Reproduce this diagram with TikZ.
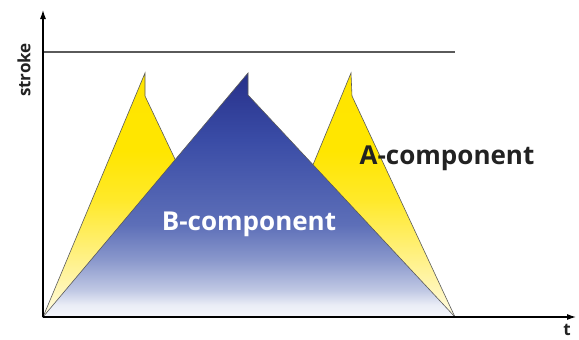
\documentclass[tikz,border=0pt]{standalone}
\usepackage{fontspec}
\setmainfont{Open Sans}
\usetikzlibrary{arrows.meta}
\definecolor{axisgray}{HTML}{333333}
\definecolor{linegray}{HTML}{5A5A5A}
\definecolor{txt}{HTML}{222222}
\pgfdeclareverticalshading{blueshade}{100bp}{
  color(0bp)=(rgb,255:red,246;green,247;blue,252);
  color(25bp)=(rgb,255:red,246;green,247;blue,252);
  color(27.5bp)=(rgb,255:red,234;green,237;blue,246);
  color(30.5bp)=(rgb,255:red,192;green,200;blue,228);
  color(36.7bp)=(rgb,255:red,138;green,152;blue,204);
  color(43.9bp)=(rgb,255:red,93;green,111;blue,184);
  color(61.3bp)=(rgb,255:red,58;green,76;blue,166);
  color(75bp)=(rgb,255:red,39;green,48;blue,138);
  color(100bp)=(rgb,255:red,39;green,48;blue,138)}
\pgfdeclareverticalshading{yellowshade}{100bp}{
  color(0bp)=(rgb,255:red,255;green,252;blue,232);
  color(25bp)=(rgb,255:red,255;green,252;blue,232);
  color(30.5bp)=(rgb,255:red,255;green,246;blue,184);
  color(38.7bp)=(rgb,255:red,255;green,240;blue,122);
  color(49bp)=(rgb,255:red,255;green,233;blue,42);
  color(59bp)=(rgb,255:red,255;green,230;blue,0);
  color(75bp)=(rgb,255:red,255;green,229;blue,0);
  color(100bp)=(rgb,255:red,255;green,229;blue,0)}
\tikzset{
  yellowtri/.style={draw=linegray, line width=0.6pt, shading=yellowshade},
  bluetri/.style={draw=linegray, line width=0.6pt, shading=blueshade},
  axisline/.style={draw=black, line width=1.1pt, -{Latex[length=9pt,width=6pt]}},
  limitline/.style={draw=linegray, line width=1.3pt},
  lbl/.style={inner sep=0pt}
}
\begin{document}
\begin{tikzpicture}[x=1pt,y=-1pt]
\useasboundingbox (0,0) rectangle (579,340);
\coordinate (O) at (43,317);
\coordinate (Ytip) at (43,10);
\coordinate (Xtip) at (576,317);
\coordinate (Lim1) at (43,52);
\coordinate (Lim2) at (455,52);
% yellow A-components
\path[yellowtri] (43,317) -- (145,73) -- (145,96) -- (250,317) -- cycle;
\path[yellowtri] (250,317) -- (351,73) -- (352,96) -- (455,317) -- cycle;
% blue B-component
\path[bluetri] (43,317) -- (248,73) -- (248,95) -- (455,317) -- cycle;
% axes
\draw[limitline] (Lim1) -- (Lim2);
\draw[axisline] (O) -- (Ytip);
\draw[axisline] (O) -- (Xtip);
% labels
\node[lbl, rotate=90, font=\bfseries\fontsize{17}{20}\selectfont, text=txt] (stroke) at (24,70) {stroke};
\node[lbl, font=\bfseries\fontsize{17}{20}\selectfont, text=txt] (t) at (567,330) {t};
\node[lbl, font=\bfseries\fontsize{26}{30}\selectfont, text=txt] (A) at (447,158) {A-component};
\node[lbl, font=\bfseries\fontsize{26}{30}\selectfont, text=white] (B) at (249,224) {B-component};
\end{tikzpicture}
\end{document}
